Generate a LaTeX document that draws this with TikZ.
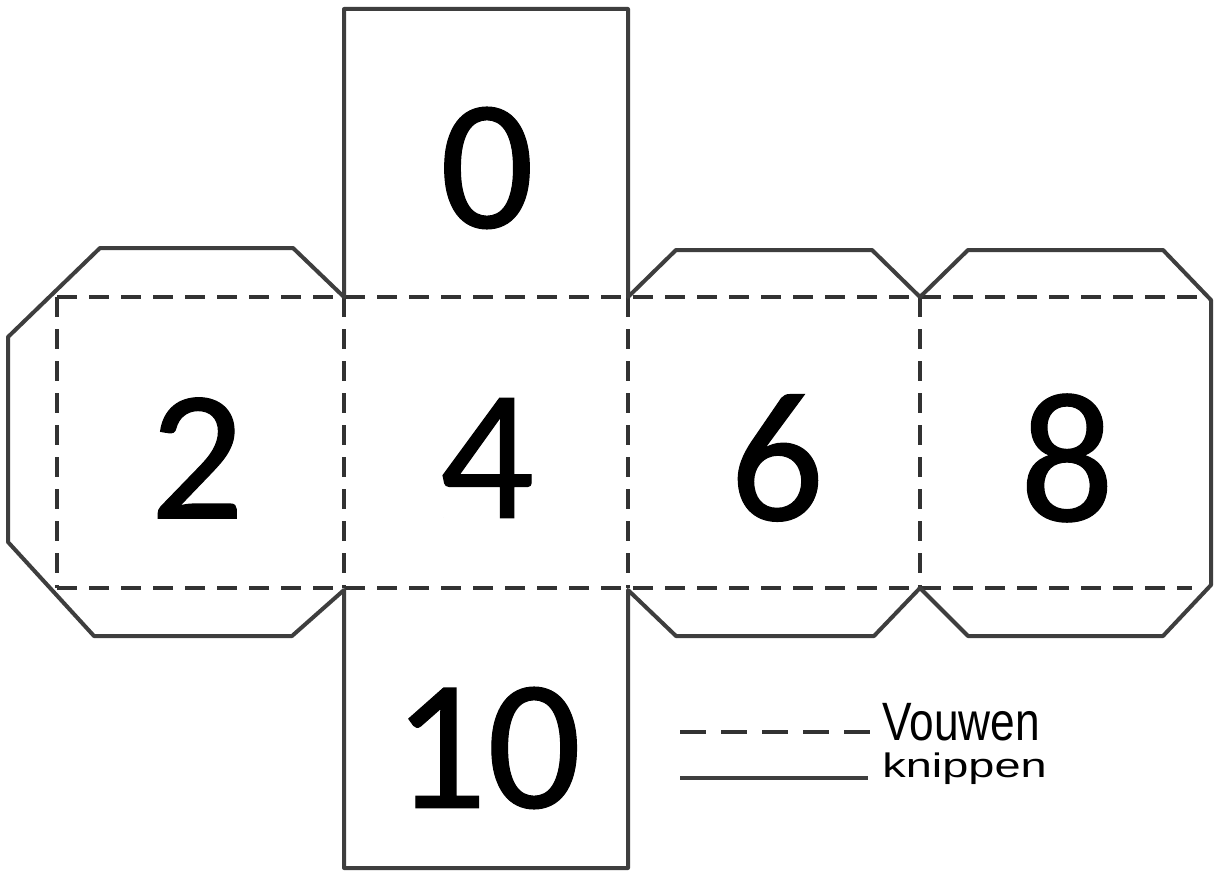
\documentclass[tikz,border=0pt]{standalone}
\usepackage{fontspec}
\setmainfont{Carlito}
\newfontfamily\digitfont[FakeBold=0.6]{Carlito}
\newfontfamily\handfont{Liberation Sans}
\usetikzlibrary{positioning}
\definecolor{pencil}{RGB}{62,62,62}

\begin{document}
\begin{tikzpicture}[x=0.5pt,y=-0.5pt,node distance=145pt,on grid,
	cut/.style={draw=pencil,line width=2pt,line join=round},
	fold/.style={draw=pencil!80!black,line width=2pt,dash pattern=on 10pt off 6pt},
	digit/.style={inner sep=0pt,font=\digitfont\fontsize{93}{93}\selectfont},
	legend/.style={inner sep=0pt,anchor=base west,font=\handfont}]
			\useasboundingbox[fill=white] (0,0) rectangle (1215,872);
			% faces
			\node[digit] (f_4) at (487,458) {4};
			\node[digit] (f_2) [left=of f_4] {2};
			\node[digit] (f_6) [right=of f_4] {6};
			\node[digit] (f_8) [right=of f_6] {8};
			\node[digit] (f_0) [above=of f_4] {0};
			\node[digit] (f_10) [below=of f_4] {10};
			% vouwen
			\draw[fold] (57,297) -- (1200,297);
			\draw[fold] (57,588) -- (1192,588);
			\foreach \x in {57,344,628,920}
				\draw[fold] (\x,297) -- (\x,588);
			% knippen
			\draw[cut] (344,9) -- (628,9) -- (628,297) -- (676,250) -- (872,250)
			-- (920,297) -- (968,250) -- (1163,250) -- (1211,300) -- (1211,585)
			-- (1163,636) -- (968,636) -- (920,588) -- (874,636) -- (676,636)
			-- (628,590) -- (628,868) -- (344,868) -- (344,590) -- (292,636)
			-- (94,636) -- (8,542) -- (8,337) -- (100,248) -- (293,248)
			-- (344,297) -- cycle;
			% legend
			\node[legend] (vouwen) at (882,740) {\fontsize{27}{27}\selectfont\scalebox{0.82}[1]{Vouwen}};
			\node[legend] (knippen) at (882,777) {\fontsize{17}{17}\selectfont\scalebox{1.38}[1]{knippen}};
			\coordinate (l_f) at (680,732);
			\coordinate (l_c) at (680,778);
			\draw[fold,dash pattern=on 13pt off 7.5pt] (l_f) -- (l_f -| vouwen.west) [shorten >=6pt];
			\draw[cut,shorten >=7pt] (l_c) -- (l_c -| knippen.west);
		\end{tikzpicture}
\end{document}
